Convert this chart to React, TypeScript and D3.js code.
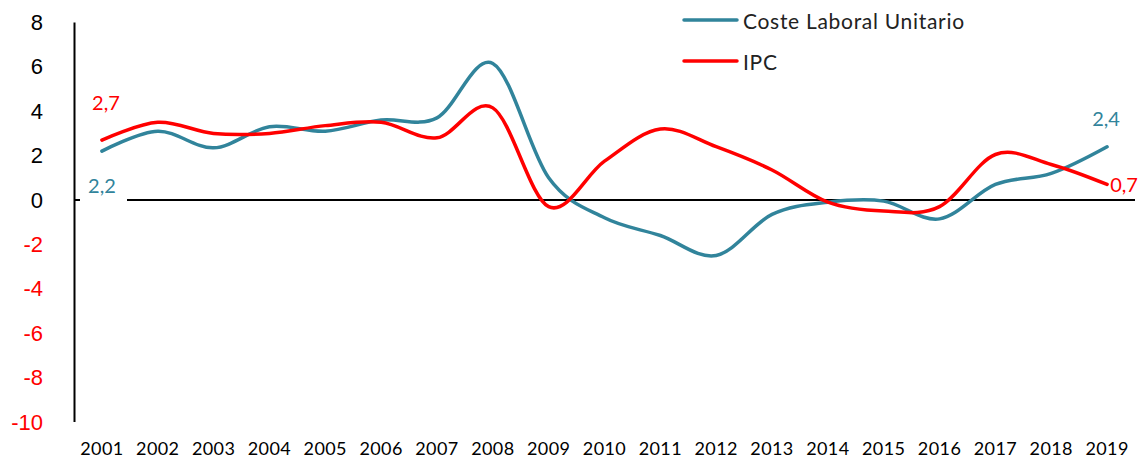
import React from "react";
import * as d3 from "d3";

const years = ["2001","2002","2003","2004","2005","2006","2007","2008","2009","2010","2011","2012","2013","2014","2015","2016","2017","2018","2019"];
const clu = [2.2, 3.1, 2.35, 3.3, 3.1, 3.6, 3.7, 6.15, 1.0, -0.8, -1.6, -2.5, -0.65, -0.1, -0.05, -0.85, 0.7, 1.2, 2.4];
const ipc = [2.7, 3.5, 3.0, 3.0, 3.35, 3.5, 2.8, 4.15, -0.3, 1.75, 3.2, 2.4, 1.35, -0.1, -0.5, -0.3, 2.05, 1.6, 0.7];
const yTicks = [8, 6, 4, 2, 0, -2, -4, -6, -8, -10];
const seriesNames = ["Coste Laboral Unitario", "IPC"];

const TEAL = "#31849B";
const RED = "#FF0000";

export default function App() {
  const W = 1141, H = 460;
  const x = d3.scalePoint<string>().domain(years).range([74, 1135]).padding(0.5);
  const y = d3.scaleLinear().domain([-10, 8]).range([422, 22.4]);
  const line = d3
    .line<number>()
    .x((_, i) => x(years[i]) as number)
    .y((d) => y(d))
    .curve(d3.curveCatmullRom.alpha(0));

  const fontG = "Lato, 'Open Sans', sans-serif";
  const fontY = "'Liberation Sans', Arial, sans-serif";
  const last = years.length - 1;

  return (
    <svg width={W} height={H} style={{ position: "absolute", left: 0, top: 0, background: "#fff" }}>
      {/* y axis */}
      <line x1={74.5} x2={74.5} y1={y(8)} y2={y(-10)} stroke="#000" strokeWidth={2} />
      {yTicks.map((t) => (
        <text
          key={t}
          x={43}
          y={y(t)}
          textAnchor="end"
          dominantBaseline="central"
          fontFamily={fontY}
          fontSize={22}
          fill={t < 0 ? RED : "#000"}
        >
          {t}
        </text>
      ))}
      {/* zero line */}
      <line x1={74} x2={1135} y1={y(0)} y2={y(0)} stroke="#000" strokeWidth={2} />
      {/* x labels */}
      {years.map((yr) => (
        <text
          key={yr}
          x={x(yr) as number}
          y={448}
          textAnchor="middle"
          dominantBaseline="central"
          fontFamily={fontG}
          fontSize={18}
          letterSpacing={0.4}
          fill="#000"
        >
          {yr}
        </text>
      ))}
      {/* series */}
      <path d={line(clu) || ""} fill="none" stroke={TEAL} strokeWidth={3.5} strokeLinecap="round" />
      <path d={line(ipc) || ""} fill="none" stroke={RED} strokeWidth={3.5} strokeLinecap="round" />
      {/* data labels */}
      <rect x={80} y={170} width={47} height={33} fill="#fff" />
      <text x={x(years[0]) as number} y={185} textAnchor="middle" dominantBaseline="central" fontFamily={fontG} fontSize={20} fill={TEAL}>
        {String(clu[0]).replace(".", ",")}
      </text>
      <text x={(x(years[0]) as number) + 4} y={102} textAnchor="middle" dominantBaseline="central" fontFamily={fontG} fontSize={20} fill={RED}>
        {String(ipc[0]).replace(".", ",")}
      </text>
      <text x={(x(years[last]) as number) - 1} y={118} textAnchor="middle" dominantBaseline="central" fontFamily={fontG} fontSize={20} fill={TEAL}>
        {String(clu[last]).replace(".", ",")}
      </text>
      <text x={(x(years[last]) as number) + 17} y={184} textAnchor="middle" dominantBaseline="central" fontFamily={fontG} fontSize={20} fill={RED}>
        {String(ipc[last]).replace(".", ",")}
      </text>
      {/* legend */}
      {seriesNames.map((n, i) => (
        <g key={n}>
          <line x1={684} x2={737} y1={20 + i * 41} y2={20 + i * 41} stroke={i === 0 ? TEAL : RED} strokeWidth={3.5} strokeLinecap="round" />
          <text x={743} y={20 + i * 41} dominantBaseline="central" fontFamily={fontG} fontSize={21} letterSpacing={0.7} fill="#222">
            {n}
          </text>
        </g>
      ))}
    </svg>
  );
}
